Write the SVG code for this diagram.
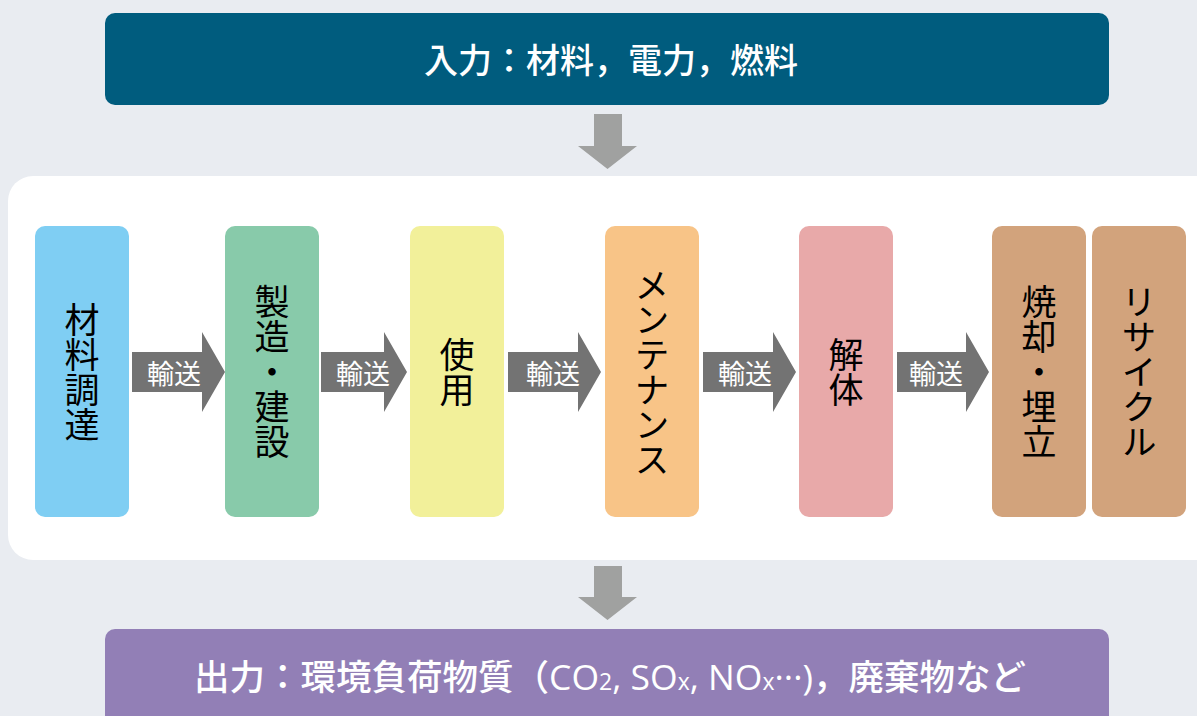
<svg xmlns="http://www.w3.org/2000/svg" width="1197" height="716" viewBox="0 0 1197 716">
<style>
.node text{font-family:"Noto Sans CJK JP","Noto Sans",sans-serif;font-size:35px;fill:#000;writing-mode:vertical-rl;text-anchor:middle;}
.bar text{font-family:"Noto Sans CJK JP","Noto Sans",sans-serif;font-weight:500;fill:#fff;text-anchor:middle;}
.tr{fill:#737373;}
.tl{font-family:"Noto Sans CJK JP","Noto Sans",sans-serif;font-size:27px;fill:#fff;text-anchor:middle;dominant-baseline:central;}
.down{fill:#A0A1A0;}
.lat{font-family:"Open Sans","Noto Sans",sans-serif;}
</style>
<rect width="1197" height="716" fill="#E9ECF1"/>
<rect x="8" y="176" width="1214" height="384" rx="25" fill="#fff"/>
<g id="input" class="bar">
<rect x="105" y="13" width="1004" height="92" rx="10" fill="#005C7E"/>
<text x="611" y="58" font-size="34" dominant-baseline="central">入力：材料，電力，燃料</text>
</g>
<g id="output" class="bar">
<rect x="105" y="629" width="1004" height="110" rx="10" fill="#927FB6"/>
<text x="610" y="690" font-size="35.5">出力：環境負荷物質（<tspan class="lat">CO<tspan font-size="23">2</tspan>, SO<tspan font-size="23">x</tspan>, NO<tspan font-size="23">x</tspan>···)</tspan>，廃棄物など</text>
</g>
<g id="n1" class="node"><rect x="35" y="226" width="94" height="291" rx="10" fill="#7FCEF3"/><text x="82" y="372">材料調達</text></g>
<g id="n2" class="node"><rect x="225" y="226" width="94" height="291" rx="10" fill="#88CAAA"/><text x="272" y="372">製造・建設</text></g>
<g id="n3" class="node"><rect x="410" y="226" width="94" height="291" rx="10" fill="#F2F09A"/><text x="457" y="372">使用</text></g>
<g id="n4" class="node"><rect x="605" y="226" width="94" height="291" rx="10" fill="#F8C487"/><text x="652" y="372">メンテナンス</text></g>
<g id="n5" class="node"><rect x="799" y="226" width="94" height="291" rx="10" fill="#E8A9A9"/><text x="846" y="372">解体</text></g>
<g id="n6" class="node"><rect x="992" y="226" width="94" height="291" rx="10" fill="#D2A37C"/><text x="1039" y="372">焼却・埋立</text></g>
<g id="n7" class="node"><rect x="1092" y="226" width="94" height="291" rx="10" fill="#D2A37C"/><text x="1139" y="372">リサイクル</text></g>
<g id="connectors">
<path class="down" d="M594 114H622V146H637L607.5 169L578 146H594Z"/>
<path class="down" d="M594 566H622V597H637L607.5 620L578 597H594Z"/>
<path class="tr" d="M132 352H202V332L225 372L202 412V392H132Z"/>
<text class="tl" x="174" y="372">輸送</text>
<path class="tr" d="M321 352H384V332L407 372L384 412V392H321Z"/>
<text class="tl" x="363" y="372">輸送</text>
<path class="tr" d="M508 352H578V332L601 372L578 412V392H508Z"/>
<text class="tl" x="553" y="372">輸送</text>
<path class="tr" d="M703 352H773V332L796 372L773 412V392H703Z"/>
<text class="tl" x="745" y="372">輸送</text>
<path class="tr" d="M897 352H966V332L989 372L966 412V392H897Z"/>
<text class="tl" x="936" y="372">輸送</text>
</g>
</svg>
